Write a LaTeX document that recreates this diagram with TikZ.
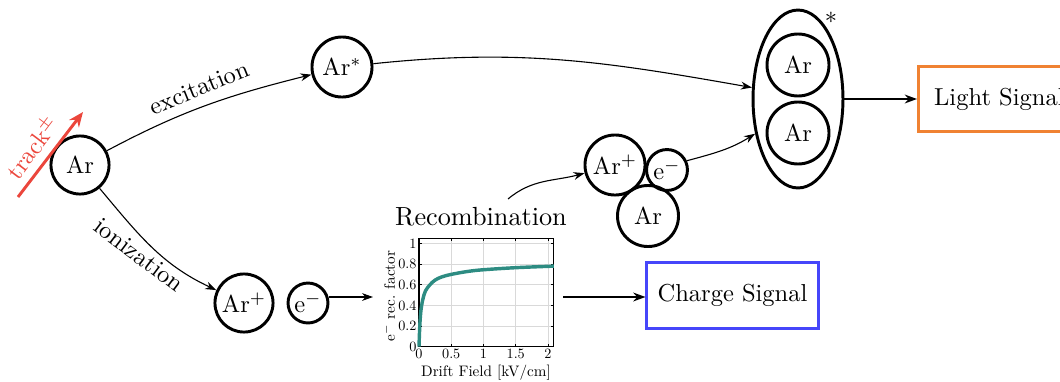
\documentclass[tikz,border=0pt]{standalone}
\usepackage{graphicx}
\usetikzlibrary{arrows.meta,shapes.geometric}
\definecolor{trackred}{RGB}{235,70,60}
\definecolor{curveteal}{RGB}{45,140,130}
\definecolor{chargeblue}{RGB}{70,70,250}
\definecolor{lightorange}{RGB}{240,130,50}
\newcommand{\ticktext}[1]{\scalebox{0.58}{#1}}
\newcommand{\axtext}[1]{\scalebox{0.62}{#1}}
\begin{document}
\begin{tikzpicture}[x=0.408pt,y=-0.408pt,
  atom/.style={circle,draw,line width=1.2pt,inner sep=0pt,minimum size=#1},
  arr/.style={-{Stealth[length=4.5pt,width=3.2pt]},line width=0.45pt},
  bigarr/.style={-{Stealth[length=5pt,width=3.6pt]},line width=0.8pt},
  sigbox/.style={draw,line width=1.2pt,inner sep=0pt,minimum height=26.6pt},
  ticklab/.style={inner sep=0.8pt},
  axlab/.style={inner sep=0pt}]
\useasboundingbox (0,0) rectangle (1060,381);

% atoms
\node[atom=23.7pt] (ar) at (80,165) {Ar};
\node[atom=24.5pt] (ars) at (342,67) {Ar$^*$};
\node[draw,ellipse,line width=1.2pt,inner sep=0pt,minimum width=36.7pt,minimum height=72.6pt] (ell) at (798,99) {};
\node[atom=25.3pt] (ex1) at (798,65) {Ar};
\node[atom=25.3pt] (ex2) at (798,133) {Ar};
\node (star) at (831,21) {*};
\node[atom=24.5pt] (rarp) at (615,165) {Ar$^+$};
\node[atom=16.7pt] (rem) at (667,170) {e$^-$};
\node[atom=24.9pt] (rar) at (648,216) {Ar};
\node[atom=23.7pt] (iarp) at (244,303) {Ar$^+$};
\node[atom=16.3pt] (iem) at (308,303) {e$^-$};

% signal boxes
\node[sigbox,draw=chargeblue,minimum width=69.8pt] (charge) at (732.5,295.5) {Charge Signal};
\node[sigbox,draw=lightorange,minimum width=62pt,anchor=west] (light) at (917,99) {\hspace*{4pt}Light Signal\hfill};

% track
\coordinate (t0) at (18,197);
\coordinate (t1) at (83,112);
\draw[trackred,line width=1.2pt,-{Stealth[length=6pt,width=5pt]}] (t0) -- (t1);
\node[trackred,rotate=53] (tracklab) at (32,147) {track$^\pm$};

% excitation / ionization
\draw[arr] (ar) to[out=28,in=194] (ars);
\node[rotate=22] (exlab) at (199,88) {excitation};
\draw[arr] (ar) to[out=-50,in=155] (iarp);
\node[rotate=-37] (ionlab) at (139,255) {ionization};
\draw[arr] (ars) to[out=6,in=170] (ell.166);

% recombination
\node[font=\fontsize{10.7}{12}\selectfont] (reclab) at (481,217) {Recombination};
\coordinate (rstart) at (508,199);
\draw[arr] (rstart) to[out=40,in=195] (rarp);
\draw[arr] (rem.25) to[out=15,in=212] (ell.219);

% plot
\begin{scope}[shift={(419,346.7)},x=26.32pt,y=42.15pt]
  \foreach \gx in {0.5,1,1.5,2} \draw[black!15,line width=0.4pt] (\gx,0) -- (\gx,1.05);
  \foreach \gy in {0.2,0.4,0.6,0.8,1} \draw[black!15,line width=0.4pt] (0,\gy) -- (2.09,\gy);
  \draw[line width=0.5pt] (0,0) rectangle (2.09,1.05);
  \foreach \gx in {0,0.5,1,1.5,2} {
    \draw[line width=0.3pt] (\gx,0) -- (\gx,0.03);
    \draw[line width=0.3pt] (\gx,1.05) -- (\gx,1.02);
    \node[ticklab,anchor=north] at (\gx,0) {\ticktext{\gx}};}
  \foreach \gy in {0,0.2,0.4,0.6,0.8,1} {
    \draw[line width=0.3pt] (0,\gy) -- (0.04,\gy);
    \draw[line width=0.3pt] (2.09,\gy) -- (2.05,\gy);
    \node[ticklab,anchor=east] at (0,\gy) {\ticktext{\gy}};}
  \draw[curveteal,line width=1.4pt,line join=round] plot[smooth,tension=0.55] coordinates
    {(0,0) (0.012,0.2) (0.03,0.35) (0.06,0.46) (0.1,0.54) (0.17,0.6) (0.25,0.645) (0.35,0.675) (0.5,0.70) (0.75,0.728) (1,0.745) (1.5,0.765) (2.09,0.78)};
\end{scope}
\node[axlab,rotate=90] (ylab) at (389,296) {\axtext{e$^-$ rec. factor}};
\node[axlab] (xlab) at (486,373) {\axtext{Drift Field [kV/cm]}};

\coordinate (pin) at (373,297);
\draw[arr] (iem.east|-pin) -- (pin);
\coordinate (pout) at (563,297);
\draw[bigarr] (pout) -- (charge.west|-pout);
\draw[bigarr] (ell.east) -- (light.west);
\end{tikzpicture}
\end{document}
